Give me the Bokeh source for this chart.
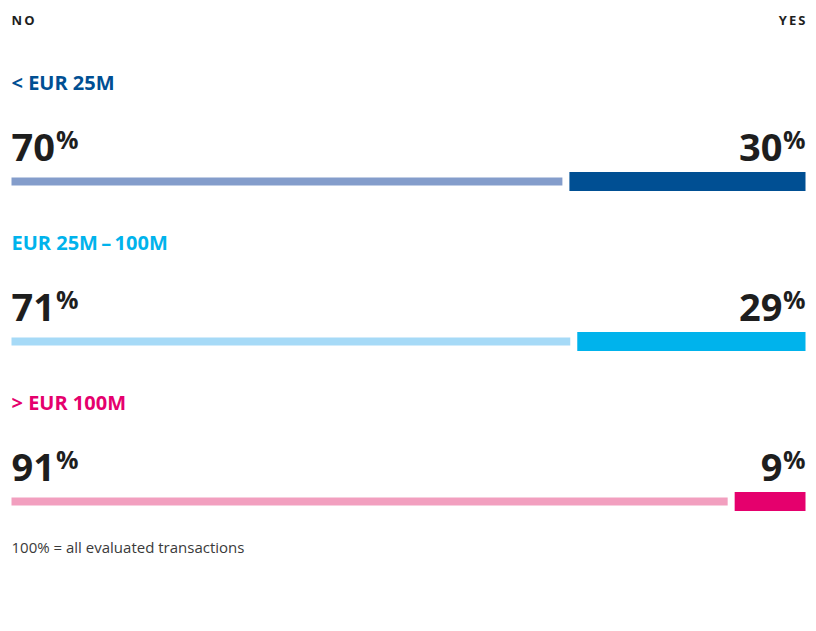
from bokeh.plotting import figure
from bokeh.models import Range1d
from bokeh.core.properties import value
from bokeh.embed import file_html
from bokeh.resources import INLINE

# ---- data ----
categories = ["< EUR 25M", "EUR 25M\u2009\u2013\u2009100M", "> EUR 100M"]
no_share = [70, 71, 91]
yes_share = [30, 29, 9]
header_left = "NO"
header_right = "YES"
footnote = "100% = all evaluated transactions"

# ---- styles ----
no_colors = ["#849dcb", "#a6daf7", "#f29fbf"]
yes_colors = ["#004f93", "#00b3ec", "#e5006d"]
label_colors = ["#004f93", "#00b3ec", "#e5006d"]
dark = "#1e1e1e"
FONT = "Open Sans"

W, H = 816, 631
px_per_pct = 7.87
left_px = 11
gap = 7 / px_per_pct  # gap between bars in data units

p = figure(width=W, height=H, output_backend="svg", toolbar_location=None,
           x_range=Range1d(-left_px / px_per_pct, (W - left_px) / px_per_pct),
           y_range=Range1d(H, 0), min_border=0)
p.axis.visible = False
p.grid.visible = False
p.outline_line_color = None
p.background_fill_color = "white"
p.border_fill_color = "white"

right_end = 100 + gap
row0 = 181
step = 160

big = 38
pct = 25
digit_w = 0.572 * big

for i, cat in enumerate(categories):
    yc = row0 + i * step
    n, yv = no_share[i], yes_share[i]
    # bars
    p.hbar(y=[yc], left=[0], right=[n], height=8, color=no_colors[i], line_color=None)
    p.hbar(y=[yc], left=[n + gap], right=[n + gap + yv], height=19,
           color=yes_colors[i], line_color=None)
    # category label
    p.text(x=[0], y=[yc - 99], text=[cat], text_font=value(FONT), text_font_style="bold",
           text_font_size="20px", text_color=label_colors[i],
           text_baseline="middle", text_align="left")
    # left value
    p.text(x=[0], y=[yc - 34], text=[str(n)], text_font=value(FONT), text_font_style="bold",
           text_font_size=f"{big}px", text_color=dark,
           text_baseline="alphabetic", text_align="left")
    p.text(x=[0], y=[yc - 60], text=["%"], text_font=value(FONT), text_font_style="bold",
           text_font_size=f"{pct}px", text_color=dark, x_offset=len(str(n)) * digit_w + 1,
           text_baseline="top", text_align="left")
    # right value
    p.text(x=[right_end], y=[yc - 34], text=[str(yv)], text_font=value(FONT),
           text_font_style="bold", text_font_size=f"{big}px", text_color=dark,
           text_baseline="alphabetic", text_align="right", x_offset=-23)
    p.text(x=[right_end], y=[yc - 60], text=["%"], text_font=value(FONT), text_font_style="bold",
           text_font_size=f"{pct}px", text_color=dark,
           text_baseline="top", text_align="right")

# headers
p.text(x=[0], y=[19], text=["\u2009".join(header_left)], text_font=value(FONT),
       text_font_style="bold", text_font_size="13px", text_color=dark,
       text_baseline="alphabetic", text_align="left")
p.text(x=[right_end], y=[19], text=["\u2009".join(header_right)], text_font=value(FONT),
       text_font_style="bold", text_font_size="13px", text_color=dark,
       text_baseline="alphabetic", text_align="right")

# footnote
p.text(x=[0], y=[546], text=[footnote], text_font=value(FONT), text_font_size="15px",
       text_color="#3a3a3a", text_baseline="alphabetic", text_align="left")

open("out.html", "w").write(file_html(p, INLINE))
